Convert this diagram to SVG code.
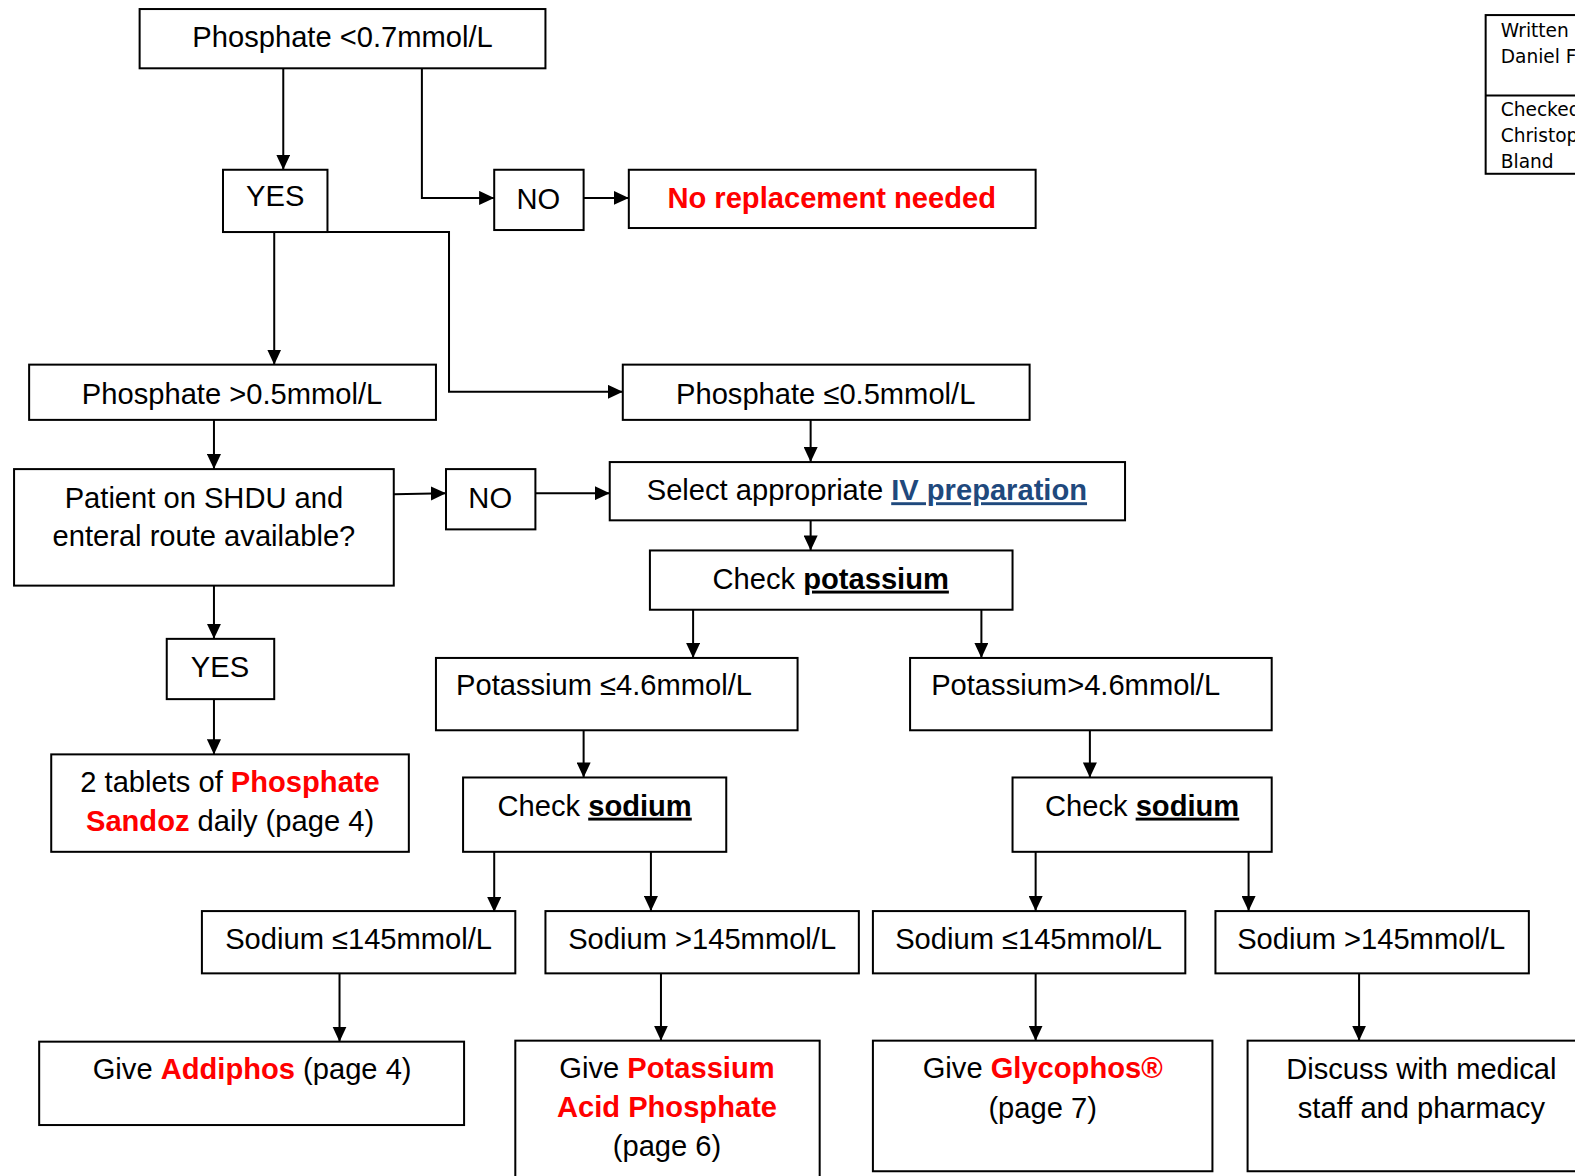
<svg xmlns="http://www.w3.org/2000/svg" width="1575" height="1176" viewBox="0 0 1575 1176">
<style>
.b{fill:#fff;stroke:#000;stroke-width:2}
.t{font-family:"Liberation Sans",Arial,sans-serif;font-size:29px;fill:#000}
.c{text-anchor:middle}
.r{fill:#ff0000;font-weight:bold}
.u{font-weight:bold;text-decoration:underline}
.lk{fill:#1f497d;font-weight:bold;text-decoration:underline}
.tb{font-family:"DejaVu Sans",Tahoma,Verdana,sans-serif;font-size:18.5px;fill:#000}
.cn{fill:none;stroke:#000;stroke-width:2}
</style>
<defs>
<marker id="ah" markerUnits="userSpaceOnUse" markerWidth="16" markerHeight="14" refX="15" refY="7" orient="auto">
<path d="M0,0 L15,7 L0,14 z" fill="#000"/>
</marker>
</defs>
<rect width="1575" height="1176" fill="#fff"/>
<g transform="scale(1.0045)">
<g id="connectors">
<path class="cn" d="M282,68 V169" marker-end="url(#ah)"/>
<path class="cn" d="M420,68 V197 H492" marker-end="url(#ah)"/>
<path class="cn" d="M581,197 H626" marker-end="url(#ah)"/>
<path class="cn" d="M273,231 V363" marker-end="url(#ah)"/>
<path class="cn" d="M326,231 H447 V390 H620" marker-end="url(#ah)"/>
<path class="cn" d="M213,418 V467" marker-end="url(#ah)"/>
<path class="cn" d="M392,492 L444,491" marker-end="url(#ah)"/>
<path class="cn" d="M533,491 H607" marker-end="url(#ah)"/>
<path class="cn" d="M807,418 V460" marker-end="url(#ah)"/>
<path class="cn" d="M807,518 V548" marker-end="url(#ah)"/>
<path class="cn" d="M213,583 V636" marker-end="url(#ah)"/>
<path class="cn" d="M213,696 V751" marker-end="url(#ah)"/>
<path class="cn" d="M690,607 V655" marker-end="url(#ah)"/>
<path class="cn" d="M977,607 V655" marker-end="url(#ah)"/>
<path class="cn" d="M581,727 V774" marker-end="url(#ah)"/>
<path class="cn" d="M1085,727 V774" marker-end="url(#ah)"/>
<path class="cn" d="M492,848 V908" marker-end="url(#ah)"/>
<path class="cn" d="M648,848 V907" marker-end="url(#ah)"/>
<path class="cn" d="M1031,848 V907" marker-end="url(#ah)"/>
<path class="cn" d="M1243,848 V907" marker-end="url(#ah)"/>
<path class="cn" d="M338,969 V1037" marker-end="url(#ah)"/>
<path class="cn" d="M658,969 V1036" marker-end="url(#ah)"/>
<path class="cn" d="M1031,969 V1036" marker-end="url(#ah)"/>
<path class="cn" d="M1353,969 V1036" marker-end="url(#ah)"/>
</g>
<g id="n-top"><rect class="b" x="139" y="9" width="404" height="59"/><text class="t c" x="341" y="47">Phosphate &lt;0.7mmol/L</text></g>
<g id="n-yes1"><rect class="b" x="222" y="169" width="104" height="62"/><text class="t c" x="274" y="205">YES</text></g>
<g id="n-no1"><rect class="b" x="492" y="169" width="89" height="60"/><text class="t c" x="536" y="208">NO</text></g>
<g id="n-norep"><rect class="b" x="626" y="169" width="405" height="58"/><text class="t c r" x="828" y="207">No replacement needed</text></g>
<g id="n-phgt"><rect class="b" x="29" y="363" width="405" height="55"/><text class="t c" x="231" y="402">Phosphate &gt;0.5mmol/L</text></g>
<g id="n-phle"><rect class="b" x="620" y="363" width="405" height="55"/><text class="t c" x="822" y="402">Phosphate ≤0.5mmol/L</text></g>
<g id="n-shdu"><rect class="b" x="14" y="467" width="378" height="116"/><text class="t c" x="203" y="506">Patient on SHDU and</text><text class="t c" x="203" y="544">enteral route available?</text></g>
<g id="n-no2"><rect class="b" x="444" y="467" width="89" height="60"/><text class="t c" x="488" y="506">NO</text></g>
<g id="n-iv"><rect class="b" x="607" y="460" width="513" height="58"/><text class="t c" x="863" y="498">Select appropriate <tspan class="lk">IV preparation</tspan></text></g>
<g id="n-kcheck"><rect class="b" x="647" y="548" width="361" height="59"/><text class="t c" x="827" y="586">Check <tspan class="u">potassium</tspan></text></g>
<g id="n-yes2"><rect class="b" x="166" y="636" width="107" height="60"/><text class="t c" x="219" y="674">YES</text></g>
<g id="n-klow"><rect class="b" x="434" y="655" width="360" height="72"/><text class="t" x="454" y="692">Potassium ≤4.6mmol/L</text></g>
<g id="n-khigh"><rect class="b" x="906" y="655" width="360" height="72"/><text class="t" x="927" y="692">Potassium&gt;4.6mmol/L</text></g>
<g id="n-tablets"><rect class="b" x="51" y="751" width="356" height="97"/><text class="t c" x="229" y="788">2 tablets of <tspan class="r">Phosphate</tspan></text><text class="t c" x="229" y="827"><tspan class="r">Sandoz</tspan> daily (page 4)</text></g>
<g id="n-nacheck1"><rect class="b" x="461" y="774" width="262" height="74"/><text class="t c" x="592" y="812">Check <tspan class="u">sodium</tspan></text></g>
<g id="n-nacheck2"><rect class="b" x="1008" y="774" width="258" height="74"/><text class="t c" x="1137" y="812">Check <tspan class="u">sodium</tspan></text></g>
<g id="n-nalow1"><rect class="b" x="201" y="907" width="312" height="62"/><text class="t c" x="357" y="945">Sodium ≤145mmol/L</text></g>
<g id="n-nahigh1"><rect class="b" x="543" y="907" width="312" height="62"/><text class="t c" x="699" y="945">Sodium &gt;145mmol/L</text></g>
<g id="n-nalow2"><rect class="b" x="869" y="907" width="311" height="62"/><text class="t c" x="1024" y="945">Sodium ≤145mmol/L</text></g>
<g id="n-nahigh2"><rect class="b" x="1210" y="907" width="312" height="62"/><text class="t c" x="1365" y="945">Sodium &gt;145mmol/L</text></g>
<g id="n-addiphos"><rect class="b" x="39" y="1037" width="423" height="83"/><text class="t c" x="251" y="1074">Give <tspan class="r">Addiphos</tspan> (page 4)</text></g>
<g id="n-kap"><rect class="b" x="513" y="1036" width="303" height="150"/><text class="t c" x="664" y="1073">Give <tspan class="r">Potassium</tspan></text><text class="t c r" x="664" y="1112">Acid Phosphate</text><text class="t c" x="664" y="1151">(page 6)</text></g>
<g id="n-glyco"><rect class="b" x="869" y="1036" width="338" height="130"/><text class="t c" x="1038" y="1073">Give <tspan class="r">Glycophos®</tspan></text><text class="t c" x="1038" y="1113">(page 7)</text></g>
<g id="n-discuss"><rect class="b" x="1242" y="1036" width="360" height="130"/><text class="t c" x="1415" y="1074">Discuss with medical</text><text class="t c" x="1415" y="1113">staff and pharmacy</text></g>
<g id="n-authors"><rect class="b" x="1479" y="15" width="120" height="158"/><line x1="1479" y1="95" x2="1600" y2="95" stroke="#000" stroke-width="2"/><text class="tb" x="1494" y="37">Written</text><text class="tb" x="1494" y="63">Daniel F</text><text class="tb" x="1494" y="115">Checked</text><text class="tb" x="1494" y="141">Christop</text><text class="tb" x="1494" y="167">Bland</text></g>
</g>
</svg>
